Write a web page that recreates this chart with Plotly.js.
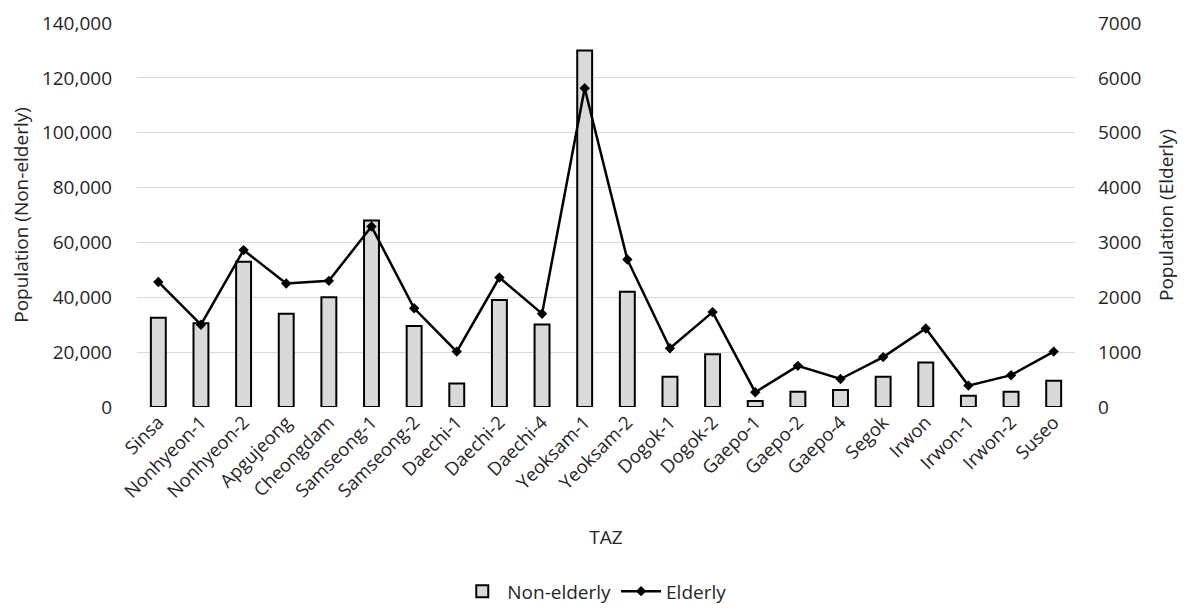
<!DOCTYPE html>
<html>
<head>
<meta charset="utf-8">
<script src="https://cdn.plot.ly/plotly-3.0.1.min.js"></script>
<style>html,body{margin:0;padding:0;background:#fff;}#chart{width:1189px;height:615px;}</style>
</head>
<body>
<div id="chart"></div>
<script>
const categories = ["Sinsa","Nonhyeon-1","Nonhyeon-2","Apgujeong","Cheongdam","Samseong-1","Samseong-2","Daechi-1","Daechi-2","Daechi-4","Yeoksam-1","Yeoksam-2","Dogok-1","Dogok-2","Gaepo-1","Gaepo-2","Gaepo-4","Segok","Irwon","Irwon-1","Irwon-2","Suseo"];
const nonElderly = [32500,30500,53000,34000,40000,68000,29500,8600,39000,30100,130000,42000,11000,19200,2200,5600,6200,11000,16200,4100,5600,9600];
const elderly = [2280,1500,2860,2250,2300,3290,1800,1010,2360,1700,5810,2690,1070,1730,270,750,510,910,1430,390,580,1010];
const leftTicks = [0,20000,40000,60000,80000,100000,120000,140000];
const rightTicks = [0,1000,2000,3000,4000,5000,6000,7000];

const font = "Open Sans, sans-serif";
const txt = "#262626";

const traces = [
  {
    type: "bar", name: "Non-elderly", x: categories, y: nonElderly,
    marker: {color: "#d9d9d9", line: {color: "#000000", width: 2}},
    yaxis: "y"
  },
  {
    type: "scatter", mode: "lines+markers", name: "Elderly", x: categories, y: elderly,
    line: {color: "#000000", width: 2.5},
    marker: {symbol: "diamond", size: 8, color: "#000000"},
    yaxis: "y2"
  }
];

const layout = {
  width: 1189, height: 615,
  margin: {l: 137, r: 114, t: 23, b: 208, autoexpand: false},
  paper_bgcolor: "#ffffff", plot_bgcolor: "#ffffff",
  font: {family: font, color: txt, size: 17},
  bargap: 0.65,
  showlegend: true,
  legend: {orientation: "h", x: 0.488, xanchor: "center", y: -0.48, yanchor: "middle",
           font: {size: 19, color: txt}, traceorder: "normal", itemwidth: 40},
  xaxis: {
    type: "category", range: [-0.5, categories.length - 0.5],
    tickangle: -45, tickfont: {size: 18.5, color: txt},
    showgrid: false, showline: false, ticks: "", automargin: false,
    title: {text: "TAZ", font: {size: 19, color: txt}, standoff: 29}
  },
  yaxis: {
    range: [0, 140000], tickvals: leftTicks, tickformat: ",",
    tickfont: {size: 19, color: txt}, gridcolor: "#d9d9d9", gridwidth: 1,
    zeroline: false, showline: false, ticks: "", automargin: false,
    ticklabelstandoff: 24,
    title: {text: "Population (Non-elderly)", font: {size: 19, color: txt}, standoff: 8}
  },
  yaxis2: {
    range: [0, 7000], tickvals: rightTicks, overlaying: "y", side: "right",
    tickfont: {size: 19, color: txt}, showgrid: false, zeroline: false,
    showline: false, ticks: "", automargin: false,
    ticklabelstandoff: 22,
    title: {text: "Population (Elderly)", font: {size: 19, color: txt}, standoff: 19}
  }
};

Plotly.newPlot("chart", traces, layout, {displayModeBar: false, staticPlot: true});
</script>
</body>
</html>
